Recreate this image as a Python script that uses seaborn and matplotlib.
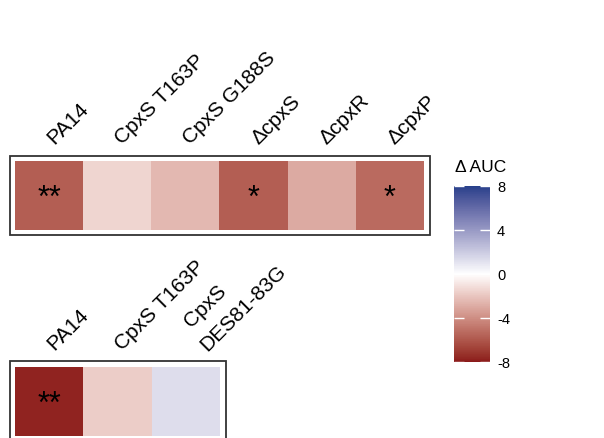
import numpy as np
import pandas as pd
import matplotlib
matplotlib.use("Agg")
import matplotlib.pyplot as plt
import matplotlib.transforms as mtransforms
from matplotlib.patches import Rectangle
from matplotlib.colors import LinearSegmentedColormap
import seaborn as sns

# ---------------- data ----------------
top_strains = ["PA14", "CpxS T163P", "CpxS G188S", "ΔcpxS", "ΔcpxR", "ΔcpxP"]
top_labels = ["PA14", "CpxS T163P", "CpxS G188S", "ΔcpxS", "ΔcpxR", "ΔcpxP"]
top_values = [-5.7, -1.5, -2.5, -5.75, -3.0, -5.3]
top_sig = ["**", "", "", "*", "", "*"]

bottom_strains = ["PA14", "CpxS T163P", "CpxS DES81-83G"]
bottom_labels = ["PA14", "CpxS T163P", "CpxS\nDES81-83G"]
bottom_values = [-7.7, -1.7, 1.3]
bottom_sig = ["**", "", ""]

cbar_ticks = [-8, -4, 0, 4, 8]
cbar_title = "Δ AUC"
vmin, vmax = -8, 8

# ---------------- style ----------------
plt.rcParams['font.family'] = ['Liberation Sans', 'DejaVu Sans']

# colormap: firebrick4 - white - royalblue4, interpolated in CIELAB
def srgb_to_lab(rgb):
    rgb = np.asarray(rgb, float)
    lin = np.where(rgb <= 0.04045, rgb / 12.92, ((rgb + 0.055) / 1.055) ** 2.4)
    M = np.array([[0.4124, 0.3576, 0.1805], [0.2126, 0.7152, 0.0722], [0.0193, 0.1192, 0.9505]])
    xyz = M @ lin
    wp = np.array([0.95047, 1.0, 1.08883])
    t = xyz / wp
    f = np.where(t > (6 / 29) ** 3, np.cbrt(t), t / (3 * (6 / 29) ** 2) + 4 / 29)
    return np.array([116 * f[1] - 16, 500 * (f[0] - f[1]), 200 * (f[1] - f[2])])

def lab_to_srgb(lab):
    L, a, b = lab
    fy = (L + 16) / 116
    fx = fy + a / 500
    fz = fy - b / 200
    f = np.array([fx, fy, fz])
    t = np.where(f > 6 / 29, f ** 3, 3 * (6 / 29) ** 2 * (f - 4 / 29))
    xyz = t * np.array([0.95047, 1.0, 1.08883])
    Minv = np.array([[3.2406, -1.5372, -0.4986], [-0.9689, 1.8758, 0.0415], [0.0557, -0.2040, 1.0570]])
    lin = np.clip(Minv @ xyz, 0, 1)
    rgb = np.where(lin <= 0.0031308, 12.92 * lin, 1.055 * lin ** (1 / 2.4) - 0.055)
    return np.clip(rgb, 0, 1)

low = np.array([0x8B, 0x1A, 0x1A]) / 255
mid = np.array([1.0, 1.0, 1.0])
high = np.array([0x27, 0x40, 0x8B]) / 255
lab_low, lab_mid, lab_high = srgb_to_lab(low), srgb_to_lab(mid), srgb_to_lab(high)
cols = []
for s in np.linspace(0, 1, 256):
    if s < 0.5:
        lab = lab_low + (lab_mid - lab_low) * (s / 0.5)
    else:
        lab = lab_mid + (lab_high - lab_mid) * ((s - 0.5) / 0.5)
    cols.append(lab_to_srgb(lab))
cmap = LinearSegmentedColormap.from_list("fb_white_rb", cols, N=256)

# ---------------- figure ----------------
W, H = 604, 438
fig = plt.figure(figsize=(W / 100, H / 100), dpi=100)

def rect(x0, y0, x1, y1):
    return [x0 / W, 1 - y1 / H, (x1 - x0) / W, (y1 - y0) / H]

def add_label(ax, xpos, text, dx_px, dy_px):
    tr = mtransforms.blended_transform_factory(ax.transData, ax.transAxes)
    tr = tr + mtransforms.ScaledTranslation(dx_px / 100, dy_px / 100, fig.dpi_scale_trans)
    ax.text(xpos, 1.0, text, transform=tr, rotation=45,
            rotation_mode="anchor", ha="left", va="baseline",
            fontsize=15, clip_on=False)

def panel(pos, box, strains, labels, values, sig):
    ax = fig.add_axes(rect(*pos))
    df = pd.DataFrame([values], columns=strains)
    ann = np.array([sig])
    sns.heatmap(df, ax=ax, cmap=cmap, vmin=vmin, vmax=vmax, cbar=False,
                annot=ann, fmt="", linewidths=0,
                annot_kws=dict(color="black", fontsize=22))
    for t in ax.texts:
        x, y = t.get_position()
        t.set_position((x, y + 0.05))
    ax.set_xticks([])
    ax.set_yticks([])
    ax.set_xlabel("")
    ax.set_ylabel("")
    for i, lab in enumerate(labels):
        lines = lab.split("\n")
        if len(lines) == 1:
            add_label(ax, i + 0.5, lab, 5, 16)
        else:
            add_label(ax, i + 0.5, lines[0], 5, 39)
            add_label(ax, i + 0.5, lines[1], 21, 15)
    bx0, by0, bx1, by1 = box
    fig.add_artist(Rectangle((bx0 / W, 1 - by1 / H), (bx1 - bx0) / W, (by1 - by0) / H,
                             transform=fig.transFigure, fill=False,
                             edgecolor="#333333", linewidth=1.3))
    return ax

ax1 = panel((15, 161, 424, 230), (10, 156, 430, 235),
            top_strains, top_labels, top_values, top_sig)
ax2 = panel((15, 367, 220, 436), (10, 361, 225.5, 445),
            bottom_strains, bottom_labels, bottom_values, bottom_sig)

# colorbar
cax = fig.add_axes(rect(454, 186, 490, 362))
cb = fig.colorbar(ax1.collections[0], cax=cax, ticks=cbar_ticks)
cb.outline.set_visible(False)
cax.tick_params(axis="y", direction="in", length=7, width=1, color="white",
                left=True, right=True, labelleft=False, labelright=True,
                labelsize=10.5, pad=5)
cax.set_yticklabels([str(t) for t in cbar_ticks])
fig.text(455 / W, 1 - 168 / H, cbar_title, ha="left", va="center", fontsize=12.5)

fig.savefig("out.png", dpi=100)
